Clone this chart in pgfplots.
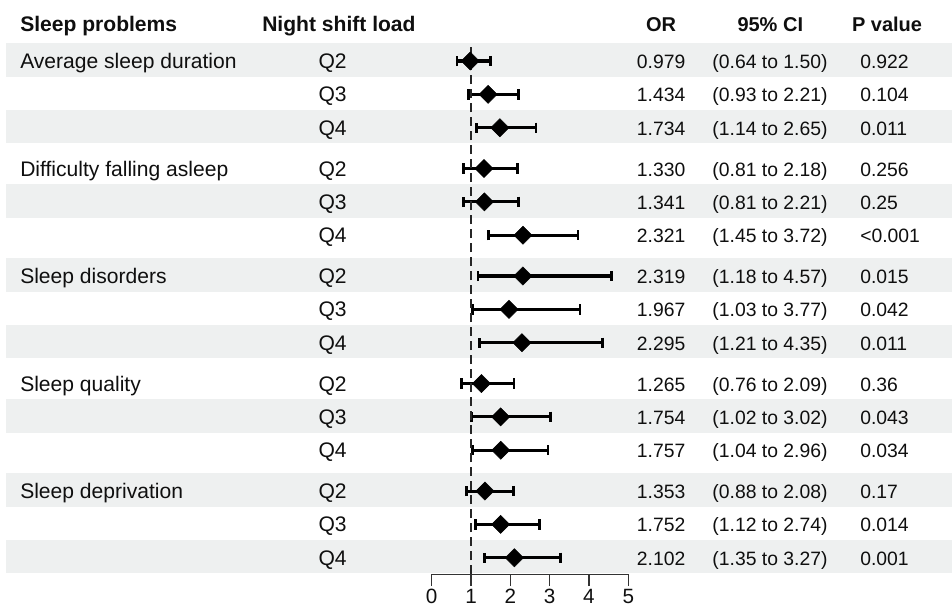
\documentclass[border=0pt]{standalone}
\usepackage{pgfplots}
\usepackage{pgfplotstable}
\pgfplotsset{compat=1.18}
\usepackage{fontspec}
\setmainfont{Liberation Sans}
\definecolor{band}{RGB}{238,240,240}
\definecolor{txt}{RGB}{15,15,15}
\newcommand\lf{\fontsize{15.8}{19}\selectfont}
\newcommand\vf{\fontsize{14.5}{17}\selectfont}
\newcommand\hf{\fontsize{15}{18}\selectfont\bfseries}
\newcommand\hlf{\fontsize{15.8}{19}\selectfont\bfseries}

\pgfplotstableread{
or    lo   hi   y
0.979 0.64 1.50 547
1.434 0.93 2.21 513.65
1.734 1.14 2.65 480.3
1.330 0.81 2.18 439.5
1.341 0.81 2.21 406.15
2.321 1.45 3.72 372.8
2.319 1.18 4.57 332
1.967 1.03 3.77 298.65
2.295 1.21 4.35 265.3
1.265 0.76 2.09 224.5
1.754 1.02 3.02 191.15
1.757 1.04 2.96 157.8
1.353 0.88 2.08 117
1.752 1.12 2.74 83.65
2.102 1.35 3.27 50.3
}\data

% baseline, Q, OR, CI, P
\newcommand\rowtext[5]{%
  \node[anchor=base west, text=txt, font=\lf, inner sep=0pt] at (axis cs:-2.884,#1) {#2};
  \node[anchor=base, text=txt, font=\vf, inner sep=0pt] at (axis cs:5.834,#1) {#3};
  \node[anchor=base, text=txt, font=\vf, inner sep=0pt] at (axis cs:8.603,#1) {#4};
  \node[anchor=base west, text=txt, font=\vf, inner sep=0pt] at (axis cs:10.893,#1) {#5};
}
\newcommand\grouptext[2]{%
  \node[anchor=base west, text=txt, font=\lf, inner sep=0pt] at (axis cs:-10.47,#1) {#2};
}
\newcommand\bandrect[2]{%
  \fill[band] (axis cs:-10.826,#1) rectangle (axis cs:13.232,#2);
}

\begin{document}
\begin{tikzpicture}
\begin{axis}[
  scale only axis, width=147.45pt, height=430.5pt,
  xmin=0, xmax=5, ymin=34, ymax=608,
  axis x line*=bottom, axis y line=none,
  xtick={0,1,2,3,4,5}, ytick=\empty,
  tick align=outside, major tick length=9pt,
  x axis line style={line width=0.8pt, black!80},
  xtick style={line width=0.8pt, black!80},
  xticklabel style={font=\fontsize{15.5}{18}\selectfont, text=txt, inner sep=0pt, yshift=-2pt},
  /pgf/number format/assume math mode=true,
  clip=false,
]
% invisible bounding box
\path (axis cs:-10.979,0) rectangle (axis cs:13.232,608);
% shaded bands
\bandrect{531.3}{564.7}
\bandrect{464.6}{498}
\bandrect{390.45}{423.85}
\bandrect{316.3}{349.7}
\bandrect{249.6}{283}
\bandrect{175.45}{208.85}
\bandrect{101.3}{134.7}
\bandrect{34.6}{68}
% headers
\node[anchor=base west, text=txt, font=\hlf, inner sep=0pt] at (axis cs:-10.47,577) {Sleep problems};
\node[anchor=base west, text=txt, font=\hlf, inner sep=0pt] at (axis cs:-4.316,577) {Night shift load};
\node[anchor=base, text=txt, font=\hf, inner sep=0pt] at (axis cs:5.834,577) {OR};
\node[anchor=base, text=txt, font=\hf, inner sep=0pt] at (axis cs:8.611,577) {95\% CI};
\node[anchor=base west, text=txt, font=\hf, inner sep=0pt] at (axis cs:10.682,577) {P value};
% group labels
\grouptext{539.5}{Average sleep duration}
\grouptext{432}{Difficulty falling asleep}
\grouptext{324.5}{Sleep disorders}
\grouptext{217}{Sleep quality}
\grouptext{109.5}{Sleep deprivation}
% rows
\rowtext{539.5}{Q2}{0.979}{(0.64 to 1.50)}{0.922}
\rowtext{506.15}{Q3}{1.434}{(0.93 to 2.21)}{0.104}
\rowtext{472.8}{Q4}{1.734}{(1.14 to 2.65)}{0.011}
\rowtext{432}{Q2}{1.330}{(0.81 to 2.18)}{0.256}
\rowtext{398.65}{Q3}{1.341}{(0.81 to 2.21)}{0.25}
\rowtext{365.3}{Q4}{2.321}{(1.45 to 3.72)}{<0.001}
\rowtext{324.5}{Q2}{2.319}{(1.18 to 4.57)}{0.015}
\rowtext{291.15}{Q3}{1.967}{(1.03 to 3.77)}{0.042}
\rowtext{257.8}{Q4}{2.295}{(1.21 to 4.35)}{0.011}
\rowtext{217}{Q2}{1.265}{(0.76 to 2.09)}{0.36}
\rowtext{183.65}{Q3}{1.754}{(1.02 to 3.02)}{0.043}
\rowtext{150.3}{Q4}{1.757}{(1.04 to 2.96)}{0.034}
\rowtext{109.5}{Q2}{1.353}{(0.88 to 2.08)}{0.17}
\rowtext{76.15}{Q3}{1.752}{(1.12 to 2.74)}{0.014}
\rowtext{42.8}{Q4}{2.102}{(1.35 to 3.27)}{0.001}
% estimates with CIs
\addplot[only marks, mark=square*, mark size=4.8pt,
  mark options={rotate=45, fill=black, draw=black},
  error bars/.cd, x dir=both, x explicit,
  error bar style={line width=2.3pt, black},
  error mark options={line width=2pt, mark size=3.9pt, black, rotate=90}]
  table[x=or, y=y, x error plus expr=\thisrow{hi}-\thisrow{or}, x error minus expr=\thisrow{or}-\thisrow{lo}] {\data};
% reference line
\addplot[line width=2.1pt, black!85, dash pattern=on 7pt off 3.5pt] coordinates {(1,34) (1,561)};
\end{axis}
\end{tikzpicture}
\end{document}
